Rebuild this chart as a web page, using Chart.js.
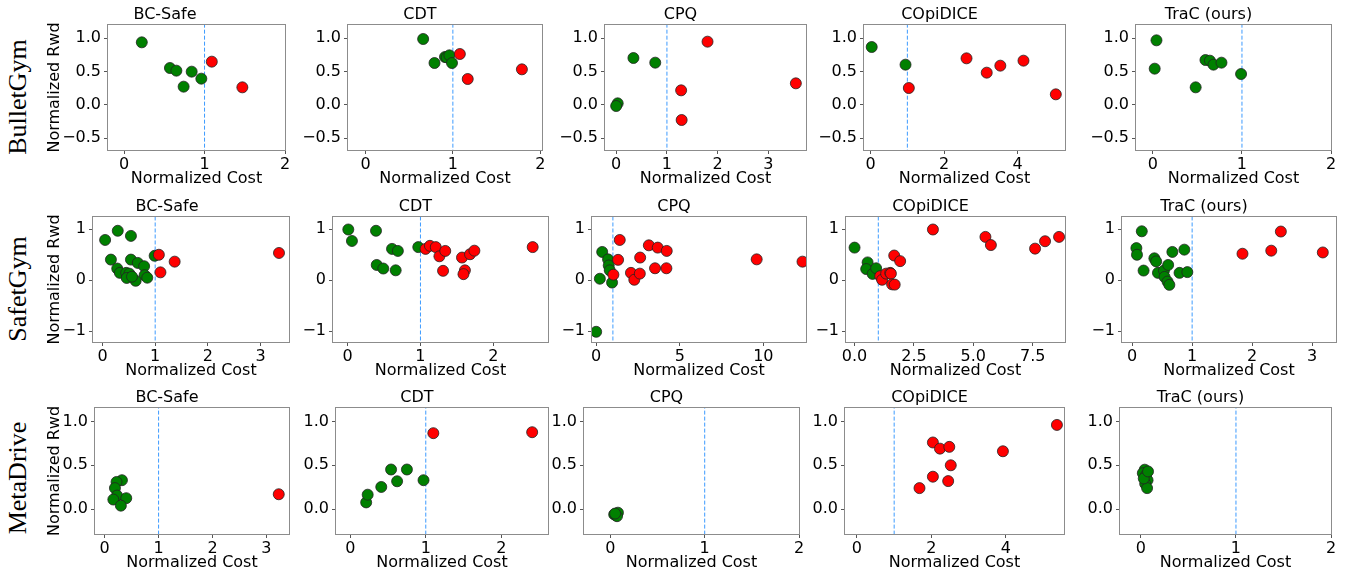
<!DOCTYPE html>
<html>
<head>
<meta charset="utf-8">
<script src="https://cdn.jsdelivr.net/npm/chart.js@4.4.1/dist/chart.umd.min.js"></script>
<style>
  body { margin: 0; background: #fff; width: 1348px; height: 572px; position: relative; overflow: hidden; }
  canvas { position: absolute; }
  .suite {
    position: absolute;
    font-family: "Liberation Serif", serif;
    font-size: 26px;
    color: #000;
    white-space: nowrap;
    transform: translate(-50%, -50%) rotate(-90deg);
  }
</style>
</head>
<body>
<script>
// ---- data ----
const suites = ["BulletGym", "SafetGym", "MetaDrive"];
const methods = ["BC-Safe", "CDT", "CPQ", "COpiDICE", "TraC (ours)"];

// one inner array per method, same order as `methods`
const bulletCost = [
  [0.22, 0.57, 0.65, 0.84, 0.74, 0.96, 1.09, 1.47],
  [0.66, 0.79, 0.91, 0.93, 0.96, 0.99, 1.08, 1.17, 1.79],
  [0.03, 0.0, 0.34, 0.77, 1.80, 1.28, 1.29, 3.54],
  [0.03, 0.95, 1.04, 2.61, 3.16, 3.53, 4.16, 5.04],
  [0.04, 0.02, 0.48, 0.59, 0.64, 0.68, 0.77, 0.99]
];
const bulletRwd = [
  [0.94, 0.555, 0.515, 0.50, 0.275, 0.395, 0.65, 0.265],
  [0.99, 0.63, 0.72, 0.715, 0.745, 0.63, 0.765, 0.39, 0.535],
  [0.025, -0.015, 0.705, 0.635, 0.95, 0.22, -0.225, 0.325],
  [0.87, 0.605, 0.255, 0.70, 0.485, 0.59, 0.665, 0.16],
  [0.97, 0.545, 0.265, 0.675, 0.665, 0.605, 0.635, 0.465]
];
const safetyCost = [
  [0.05, 0.29, 0.54, 0.16, 0.28, 0.33, 0.45, 0.51, 0.46, 0.54, 0.67, 0.79, 0.80, 0.85, 0.63, 0.99, 0.56, 1.07, 1.10, 1.37, 3.35],
  [0.01, 0.06, 0.39, 0.40, 0.49, 0.61, 0.69, 0.66, 0.97, 1.07, 1.13, 1.21, 1.26, 1.34, 1.31, 1.57, 1.61, 1.59, 1.68, 1.74, 2.54],
  [0.0, 0.22, 0.36, 0.71, 0.75, 0.81, 0.95, 1.03, 1.31, 1.41, 2.08, 2.28, 2.63, 2.61, 3.15, 3.52, 3.68, 4.22, 4.20, 9.6, 12.34],
  [0.0, 0.55, 0.49, 0.76, 0.91, 1.08, 1.16, 1.33, 1.50, 1.53, 1.67, 1.92, 1.58, 1.69, 3.30, 5.51, 5.74, 7.60, 8.02, 8.61],
  [0.16, 0.07, 0.08, 0.19, 0.37, 0.40, 0.43, 0.53, 0.54, 0.60, 0.67, 0.59, 0.62, 0.79, 0.87, 0.92, 1.84, 2.32, 2.48, 3.18]
];
const safetyRwd = [
  [0.79, 0.97, 0.87, 0.405, 0.23, 0.145, 0.145, 0.13, 0.045, 0.405, 0.34, 0.275, 0.10, 0.05, -0.01, 0.48, 0.07, 0.50, 0.155, 0.365, 0.535],
  [0.995, 0.77, 0.97, 0.30, 0.23, 0.615, 0.575, 0.195, 0.65, 0.615, 0.675, 0.65, 0.47, 0.575, 0.185, 0.445, 0.195, 0.12, 0.51, 0.58, 0.65],
  [-1.01, 0.03, 0.555, 0.41, 0.29, 0.195, -0.045, 0.11, 0.40, 0.79, 0.145, 0.01, 0.445, 0.13, 0.685, 0.235, 0.64, 0.575, 0.235, 0.41, 0.365],
  [0.64, 0.35, 0.22, 0.125, 0.235, 0.08, 0.01, 0.13, 0.145, 0.13, 0.485, 0.375, -0.08, -0.085, 0.995, 0.85, 0.69, 0.62, 0.765, 0.85],
  [0.96, 0.63, 0.50, 0.19, 0.43, 0.37, 0.145, 0.19, 0.065, 0.30, 0.555, -0.025, -0.09, 0.145, 0.60, 0.16, 0.52, 0.58, 0.955, 0.545]
];
const metaCost = [
  [0.32, 0.22, 0.19, 0.23, 0.16, 0.40, 0.30, 3.23],
  [0.21, 0.23, 0.41, 0.54, 0.62, 0.75, 0.97, 1.10, 2.41],
  [0.04, 0.06, 0.08, 0.07, 0.05],
  [2.04, 2.23, 2.48, 2.52, 2.45, 2.04, 1.68, 3.92, 5.37],
  [0.04, 0.02, 0.055, 0.07, 0.045, 0.065, 0.03, 0.075]
];
const metaRwd = [
  [0.33, 0.31, 0.24, 0.155, 0.11, 0.125, 0.04, 0.17],
  [0.077, 0.165, 0.253, 0.452, 0.318, 0.452, 0.33, 0.866, 0.877],
  [-0.06, -0.07, -0.04, -0.08, -0.05],
  [0.76, 0.69, 0.71, 0.50, 0.32, 0.37, 0.24, 0.66, 0.96],
  [0.45, 0.41, 0.39, 0.33, 0.29, 0.24, 0.35, 0.43]
];
const costLimit = 1;

// axis limits and ticks
const yLimits = [[-0.675, 1.2], [-1.21, 1.24], [-0.283, 1.153]];
const yTicks = [[-0.5, 0, 0.5, 1], [-1, 0, 1], [0, 0.5, 1]];
const yTickLabels = [["\u22120.5", "0.0", "0.5", "1.0"], ["\u22121", "0", "1"], ["0.0", "0.5", "1.0"]];

const xLimits = [
  [[-0.2, 2.0], [-0.2, 2.02], [-0.22, 3.74], [-0.18, 5.29], [-0.19, 2.0]],
  [[-0.18, 3.54], [-0.2, 2.75], [-0.25, 12.55], [-0.36, 8.86], [-0.17, 3.4]],
  [[-0.18, 3.42], [-0.19, 2.62], [-0.28, 2.0], [-0.32, 5.56], [-0.22, 2.0]]
];
const xTicks = [
  [[0, 1, 2], [0, 1, 2], [0, 1, 2, 3], [0, 2, 4], [0, 1, 2]],
  [[0, 1, 2, 3], [0, 1, 2], [0, 5, 10], [0, 2.5, 5, 7.5], [0, 1, 2, 3]],
  [[0, 1, 2, 3], [0, 1, 2], [0, 1, 2], [0, 2, 4], [0, 1, 2]]
];
const xTickLabels = [
  [["0", "1", "2"], ["0", "1", "2"], ["0", "1", "2", "3"], ["0", "2", "4"], ["0", "1", "2"]],
  [["0", "1", "2", "3"], ["0", "1", "2"], ["0", "5", "10"], ["0.0", "2.5", "5.0", "7.5"], ["0", "1", "2", "3"]],
  [["0", "1", "2", "3"], ["0", "1", "2"], ["0", "1", "2"], ["0", "2", "4"], ["0", "1", "2"]]
];

const costs = [bulletCost, safetyCost, metaCost];
const rwds = [bulletRwd, safetyRwd, metaRwd];

// ---- layout: plot boxes in page pixels ----
const rowTop = [25, 217, 408];
const rowBottom = [150, 342, 534];
const plotLeft = [[108, 348, 605, 864, 1136], [93, 333, 592, 846, 1122], [95, 336, 584, 845, 1120]];
const plotRight = [[285, 542, 806, 1065, 1331], [289, 548, 806, 1065, 1336], [289, 548, 799, 1064, 1331]];
const suiteY = [97, 289, 478];

const TITLE_H = 22, XAXIS_H = 38, PAD_R = 20, FIRST_LEFT = 45, YAXIS_W = 50;
const font = { family: "DejaVu Sans", size: 16 };

const framePlugin = {
  id: "frame",
  afterDraw(chart) {
    const a = chart.chartArea, ctx = chart.ctx;
    ctx.save();
    ctx.strokeStyle = "#8c8c8c";
    ctx.lineWidth = 1;
    ctx.strokeRect(Math.round(a.left) - 0.5, Math.round(a.top) - 0.5,
      Math.round(a.right - a.left) + 1, Math.round(a.bottom - a.top) + 1);
    ctx.restore();
  }
};

suites.forEach((suite, r) => {
  const lbl = document.createElement("div");
  lbl.className = "suite";
  lbl.textContent = suite;
  lbl.style.left = "18px";
  lbl.style.top = suiteY[r] + "px";
  document.body.appendChild(lbl);

  methods.forEach((method, c) => {
    const pl = plotLeft[r][c], pr = plotRight[r][c];
    const yw = c === 0 ? pl - FIRST_LEFT : YAXIS_W;
    const cv = document.createElement("canvas");
    const w = yw + (pr - pl) + PAD_R;
    const h = TITLE_H + (rowBottom[r] - rowTop[r]) + XAXIS_H;
    cv.width = w; cv.height = h;
    cv.style.width = w + "px"; cv.style.height = h + "px";
    cv.style.left = (pl - yw) + "px";
    cv.style.top = (rowTop[r] - TITLE_H) + "px";
    document.body.appendChild(cv);

    const pts = costs[r][c].map((x, i) => ({ x: x, y: rwds[r][c][i] }));

    new Chart(cv, {
      type: "scatter",
      data: {
        datasets: [
          {
            data: pts,
            order: 1,
            clip: 0,
            pointRadius: 5.5,
            pointHoverRadius: 5.5,
            borderWidth: 0.8,
            borderColor: "#222",
            backgroundColor: ctx => (ctx.raw && ctx.raw.x <= costLimit ? "#008000" : "#ff0000")
          },
          {
            type: "line",
            data: [{ x: costLimit, y: -10 }, { x: costLimit, y: 10 }],
            order: 2,
            clip: 0,
            borderColor: "#3d9bff",
            borderWidth: 1,
            borderDash: [4, 2],
            pointRadius: 0
          }
        ]
      },
      options: {
        responsive: false,
        animation: false,
        events: [],
        layout: { padding: { left: 0, right: PAD_R, top: 0, bottom: 0 } },
        plugins: {
          legend: { display: false },
          tooltip: { enabled: false },
          title: {
            display: true,
            text: method,
            color: "#000",
            font: { family: font.family, size: 16, weight: "normal", lineHeight: 1 },
            padding: { top: 4, bottom: 2 }
          }
        },
        scales: {
          x: {
            type: "linear",
            min: xLimits[r][c][0],
            max: xLimits[r][c][1],
            afterBuildTicks: s => { s.ticks = xTicks[r][c].map(v => ({ value: v })); },
            afterFit: s => { s.height = XAXIS_H; s.paddingLeft = 0; s.paddingRight = 0; },
            ticks: {
              autoSkip: false,
              maxRotation: 0,
              padding: 1,
              color: "#000",
              font: font,
              callback: (v, i) => xTickLabels[r][c][i]
            },
            grid: { drawOnChartArea: false, drawTicks: true, tickLength: 4, color: "#555" },
            border: { display: false },
            title: { display: true, text: "Normalized Cost", color: "#000", font: font, padding: 0 }
          },
          y: {
            type: "linear",
            min: yLimits[r][0],
            max: yLimits[r][1],
            afterBuildTicks: s => { s.ticks = yTicks[r].map(v => ({ value: v })); },
            afterFit: s => { s.width = yw; s.paddingTop = 0; s.paddingBottom = 0; },
            ticks: {
              autoSkip: false,
              padding: 3,
              color: "#000",
              font: font,
              callback: (v, i) => yTickLabels[r][i]
            },
            grid: { drawOnChartArea: false, drawTicks: true, tickLength: 4, color: "#555" },
            border: { display: false },
            title: { display: c === 0, text: "Normalized Rwd", color: "#000", font: font, padding: 0 }
          }
        }
      },
      plugins: [framePlugin]
    });
  });
});
</script>
</body>
</html>
